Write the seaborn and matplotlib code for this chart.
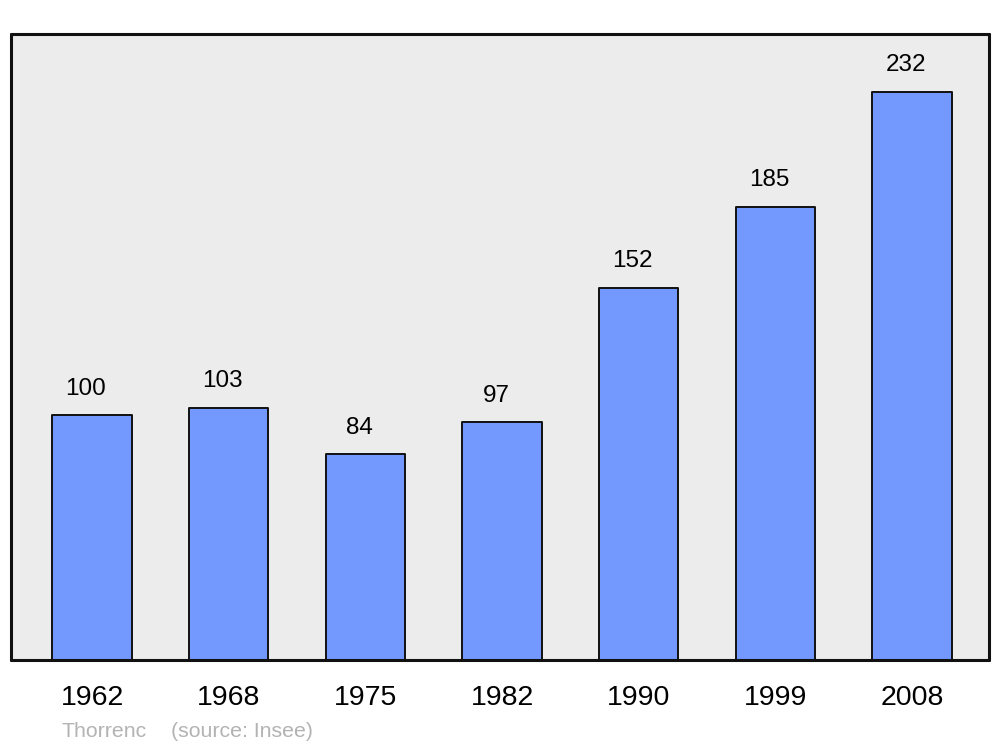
import pandas as pd
import seaborn as sns
import matplotlib.pyplot as plt

years = ["1962", "1968", "1975", "1982", "1990", "1999", "2008"]
population = [100, 103, 84, 97, 152, 185, 232]
commune = "Thorrenc"
source = "(source: Insee)"

sns.set_theme(style="white")
plt.rcParams["font.family"] = ["Liberation Sans", "DejaVu Sans"]

df = pd.DataFrame({"year": years, "pop": population})

fig = plt.figure(figsize=(10, 7.47), dpi=100)
ax = fig.add_axes([0.011, 0.1165, 0.978, 0.838])
ax.set_facecolor("#ececec")

sns.barplot(data=df, x="year", y="pop", color="#7399ff", saturation=1,
            width=0.58, edgecolor="#111111", linewidth=1.4, ax=ax)
for p in ax.patches:
    p.set_joinstyle("round")

for i, v in enumerate(population):
    ax.annotate(str(v), (i - 0.045, v), xytext=(0, 11), textcoords="offset points",
                ha="center", va="bottom", fontsize=17.5, color="black")

ax.set_xlim(-0.593, 6.563)
ax.set_ylim(0, 255.5)
ax.set_xlabel("")
ax.set_ylabel("")
ax.set_yticks([])
ax.tick_params(axis="x", length=0, pad=18, labelsize=20.5, labelcolor="black")
for s in ax.spines.values():
    s.set_visible(True)
    s.set_linewidth(2.2)
    s.set_color("#111111")
    s.set_capstyle("round")

fig.text(0.061, 0.021, commune, color="#b3b3b3", fontsize=15.3, va="center", ha="left")
fig.text(0.171, 0.021, source, color="#b3b3b3", fontsize=15.3, va="center", ha="left")

fig.savefig("out.png", dpi=100, facecolor="white")
